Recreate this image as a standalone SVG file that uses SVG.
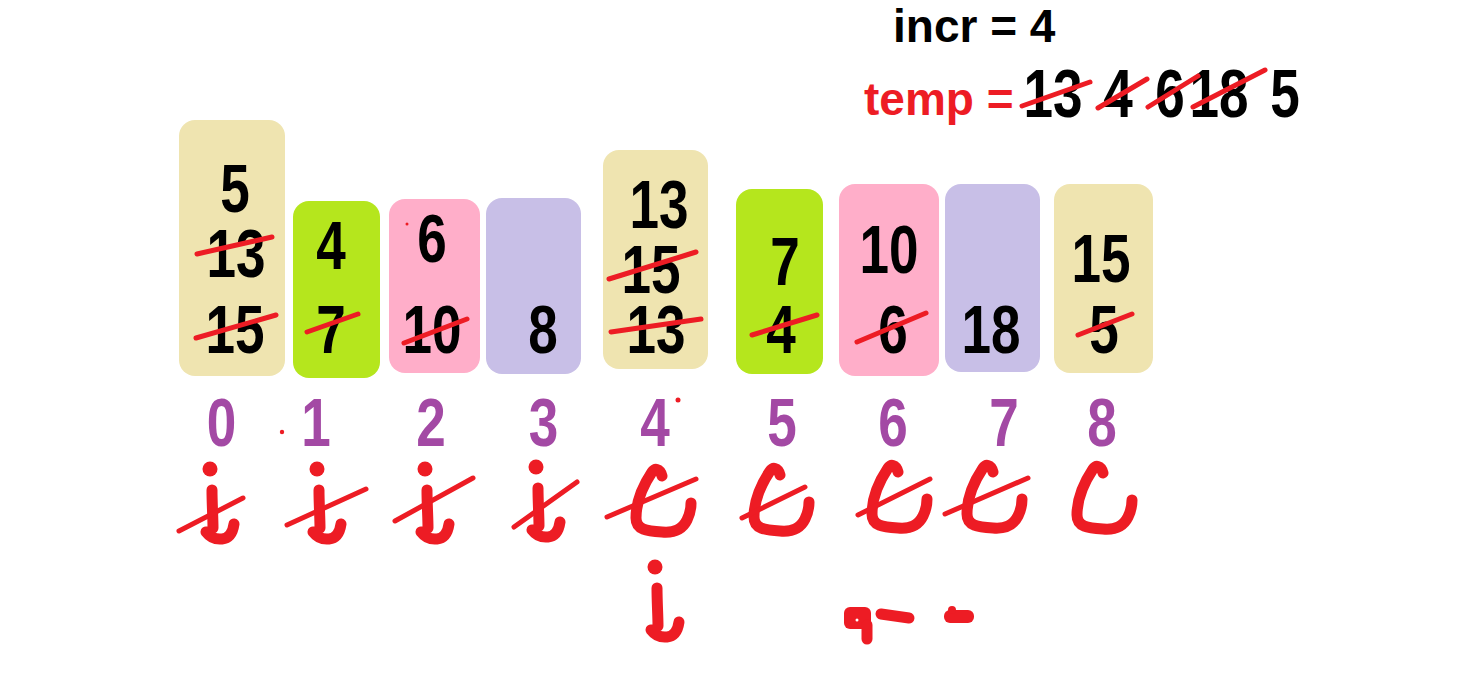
<svg xmlns="http://www.w3.org/2000/svg" xmlns:xlink="http://www.w3.org/1999/xlink" width="1480" height="700" viewBox="0 0 1480 700">
<style>
.tan{fill:#EFE4B0}.grn{fill:#B5E61D}.pnk{fill:#FFAEC9}.lav{fill:#C8BFE7}
.num{font-family:"Liberation Sans",Arial,sans-serif;font-weight:bold;font-size:68px;fill:#000;text-anchor:middle}
.idx{font-family:"Liberation Sans",Arial,sans-serif;font-weight:bold;font-size:68px;fill:#A349A4;text-anchor:middle}
.lbl{font-family:"Liberation Sans",Arial,sans-serif;font-weight:bold;font-size:46px}
.st{stroke:#ED1C24;stroke-width:5;stroke-linecap:round;fill:none}
.pen{stroke:#ED1C24;stroke-width:11;stroke-linecap:round;stroke-linejoin:round;fill:none}
.red{fill:#ED1C24}
</style>
<defs>
<g id="iMark">
<circle cx="-2" cy="-21" r="7.5" class="red"/>
<path class="pen" d="M0,0 C0,14 1,28 1,38 M-6,42 Q0,50 10,49 Q20,48 22,34"/>
</g>
<g id="jMark">
<path class="pen" d="M0,0 C-2,-8 -8,-8 -10,-4 C-18,8 -26,25 -26,42 C-26,54 -15,55 0,56 C12,57 20,54 25,44 C28,38 29,33 29,27"/>
</g>
</defs>

<rect width="1480" height="700" fill="#fff"/>

<g id="header">
<text class="lbl" x="893" y="42" fill="#000">incr = 4</text>
<text class="lbl" x="864" y="115" font-size="47" fill="#ED1C24">temp =</text>
<text class="num" x="1053" y="117" textLength="59" lengthAdjust="spacingAndGlyphs">13</text>
<text class="num" x="1118" y="117" textLength="29.5" lengthAdjust="spacingAndGlyphs">4</text>
<text class="num" x="1170" y="117" textLength="29.5" lengthAdjust="spacingAndGlyphs">6</text>
<text class="num" x="1219" y="117" textLength="59" lengthAdjust="spacingAndGlyphs">18</text>
<text class="num" x="1285" y="117" textLength="29.5" lengthAdjust="spacingAndGlyphs">5</text>
<line class="st" x1="1022" y1="106" x2="1090" y2="82"/>
<line class="st" x1="1098" y1="108" x2="1147" y2="79"/>
<line class="st" x1="1148" y1="107" x2="1198" y2="76"/>
<line class="st" x1="1193" y1="107" x2="1265" y2="70"/>
</g>

<g id="box0">
<rect class="tan" x="179" y="120" width="106" height="256" rx="16"/>
<text class="num" x="235" y="212" textLength="29.5" lengthAdjust="spacingAndGlyphs">5</text>
<text class="num" x="236" y="277" textLength="59" lengthAdjust="spacingAndGlyphs">13</text>
<text class="num" x="235" y="353" textLength="59" lengthAdjust="spacingAndGlyphs">15</text>
<line class="st" x1="197" y1="254" x2="272" y2="237"/>
<line class="st" x1="196" y1="338" x2="276" y2="315"/>
</g>
<g id="box1">
<rect class="grn" x="293" y="201" width="87" height="177" rx="16"/>
<text class="num" x="331" y="269" textLength="29.5" lengthAdjust="spacingAndGlyphs">4</text>
<text class="num" x="331" y="353" textLength="29.5" lengthAdjust="spacingAndGlyphs">7</text>
<line class="st" x1="307" y1="332" x2="358" y2="314"/>
</g>
<g id="box2">
<rect class="pnk" x="389" y="199" width="91" height="174" rx="16"/>
<text class="num" x="432" y="262" textLength="29.5" lengthAdjust="spacingAndGlyphs">6</text>
<text class="num" x="432" y="353" textLength="59" lengthAdjust="spacingAndGlyphs">10</text>
<line class="st" x1="404" y1="343" x2="467" y2="319"/>
<circle class="red" cx="407" cy="224" r="1.5"/>
</g>
<g id="box3">
<rect class="lav" x="486" y="198" width="95" height="176" rx="16"/>
<text class="num" x="543" y="353" textLength="29.5" lengthAdjust="spacingAndGlyphs">8</text>
</g>
<g id="box4">
<rect class="tan" x="603" y="150" width="105" height="219" rx="16"/>
<text class="num" x="659" y="228" textLength="59" lengthAdjust="spacingAndGlyphs">13</text>
<text class="num" x="651" y="293" textLength="59" lengthAdjust="spacingAndGlyphs">15</text>
<text class="num" x="656" y="353" textLength="59" lengthAdjust="spacingAndGlyphs">13</text>
<line class="st" x1="609" y1="279" x2="696" y2="252"/>
<line class="st" x1="611" y1="332" x2="701" y2="319"/>
</g>
<g id="box5">
<rect class="grn" x="736" y="189" width="87" height="185" rx="16"/>
<text class="num" x="785" y="285" textLength="29.5" lengthAdjust="spacingAndGlyphs">7</text>
<text class="num" x="781" y="353" textLength="29.5" lengthAdjust="spacingAndGlyphs">4</text>
<line class="st" x1="752" y1="335" x2="817" y2="315"/>
</g>
<g id="box6">
<rect class="pnk" x="839" y="184" width="100" height="192" rx="16"/>
<text class="num" x="889" y="273" textLength="59" lengthAdjust="spacingAndGlyphs">10</text>
<text class="num" x="893" y="353" textLength="29.5" lengthAdjust="spacingAndGlyphs">6</text>
<line class="st" x1="857" y1="342" x2="926" y2="313"/>
</g>
<g id="box7">
<rect class="lav" x="945" y="184" width="95" height="188" rx="16"/>
<text class="num" x="991" y="353" textLength="59" lengthAdjust="spacingAndGlyphs">18</text>
</g>
<g id="box8">
<rect class="tan" x="1054" y="184" width="99" height="189" rx="16"/>
<text class="num" x="1101" y="282" textLength="59" lengthAdjust="spacingAndGlyphs">15</text>
<text class="num" x="1104" y="353" textLength="29.5" lengthAdjust="spacingAndGlyphs">5</text>
<line class="st" x1="1078" y1="335" x2="1132" y2="314"/>
</g>

<g id="indices">
<text class="idx" x="221.5" y="446" textLength="29.5" lengthAdjust="spacingAndGlyphs">0</text>
<text class="idx" x="316" y="446" textLength="29.5" lengthAdjust="spacingAndGlyphs">1</text>
<text class="idx" x="431" y="446" textLength="29.5" lengthAdjust="spacingAndGlyphs">2</text>
<text class="idx" x="543.5" y="446" textLength="29.5" lengthAdjust="spacingAndGlyphs">3</text>
<text class="idx" x="655" y="446" textLength="29.5" lengthAdjust="spacingAndGlyphs">4</text>
<text class="idx" x="782" y="446" textLength="29.5" lengthAdjust="spacingAndGlyphs">5</text>
<text class="idx" x="893" y="446" textLength="29.5" lengthAdjust="spacingAndGlyphs">6</text>
<text class="idx" x="1004" y="446" textLength="29.5" lengthAdjust="spacingAndGlyphs">7</text>
<text class="idx" x="1102" y="446" textLength="29.5" lengthAdjust="spacingAndGlyphs">8</text>
<circle class="red" cx="282" cy="432" r="2.2"/>
<circle class="red" cx="678" cy="400" r="2.5"/>
</g>

<g id="marks">
<use xlink:href="#iMark" href="#iMark" x="212" y="490"/>
<use xlink:href="#iMark" href="#iMark" x="319" y="490"/>
<use xlink:href="#iMark" href="#iMark" x="427" y="490"/>
<use xlink:href="#iMark" href="#iMark" x="538" y="488"/>
<use xlink:href="#jMark" href="#jMark" x="662" y="476"/>
<use xlink:href="#jMark" href="#jMark" x="780" y="475"/>
<use xlink:href="#jMark" href="#jMark" x="898" y="472"/>
<use xlink:href="#jMark" href="#jMark" x="993" y="472"/>
<use xlink:href="#jMark" href="#jMark" x="1103" y="473"/>
<line class="st" stroke-width="4" x1="179" y1="531" x2="243" y2="498"/>
<line class="st" stroke-width="4" x1="287" y1="525" x2="366" y2="489"/>
<line class="st" stroke-width="4" x1="395" y1="521" x2="473" y2="478"/>
<line class="st" stroke-width="4" x1="514" y1="527" x2="577" y2="482"/>
<line class="st" stroke-width="4" x1="607" y1="517" x2="696" y2="479"/>
<line class="st" stroke-width="4" x1="742" y1="518" x2="805" y2="487"/>
<line class="st" stroke-width="4" x1="858" y1="515" x2="930" y2="479"/>
<line class="st" stroke-width="4" x1="945" y1="514" x2="1028" y2="478"/>
<use xlink:href="#iMark" href="#iMark" x="657" y="588"/>
<rect class="red" x="844" y="607" width="27" height="22" rx="6"/>
<line class="pen" stroke-width="9" x1="867" y1="625" x2="867" y2="639"/>
<circle cx="857" cy="620" r="1.5" fill="#fff"/>
<line class="pen" x1="881" y1="614" x2="909" y2="618"/>
<rect class="red" x="944" y="610" width="30" height="13" rx="6"/>
<circle class="red" cx="952" cy="610" r="4"/>
</g>
</svg>
